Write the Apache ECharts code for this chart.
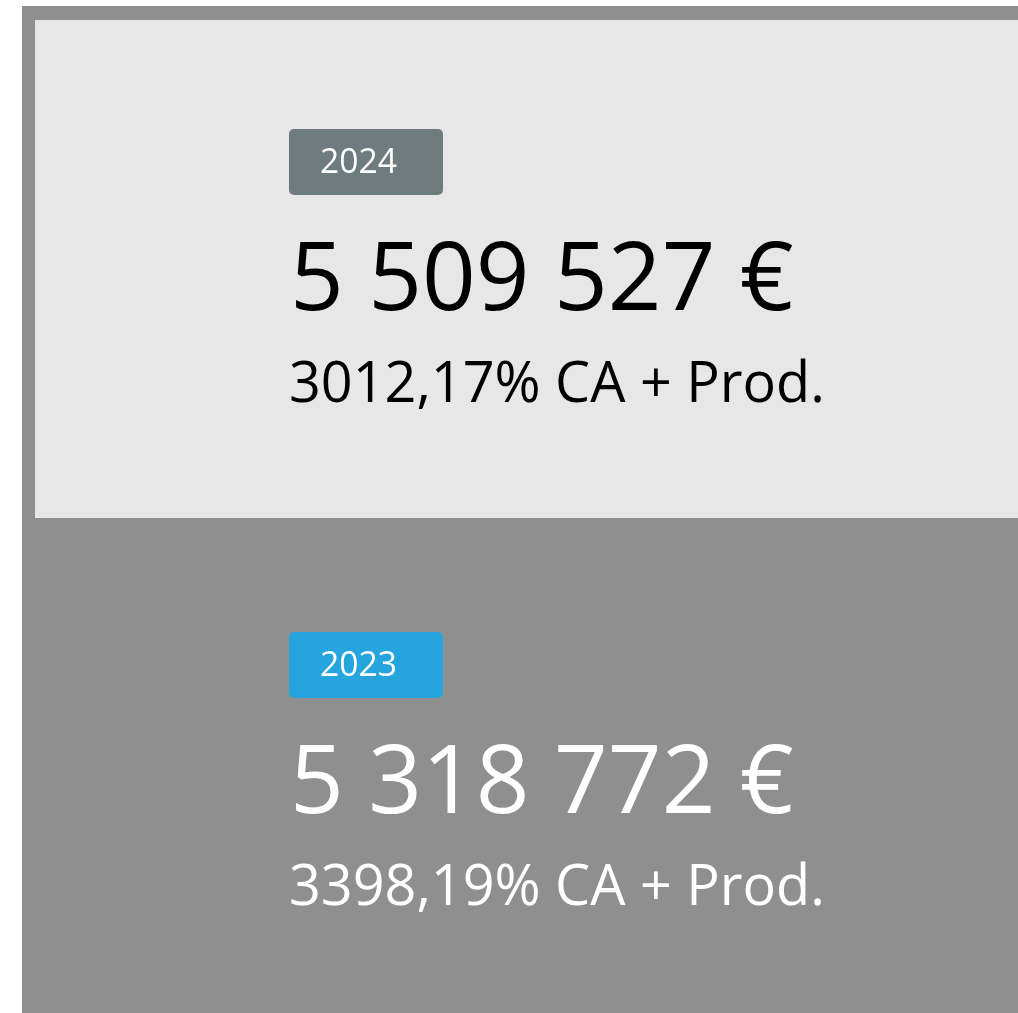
<!DOCTYPE html>
<html>
<head>
<meta charset="utf-8">
<script src="https://cdn.jsdelivr.net/npm/echarts@6/dist/echarts.min.js"></script>
<style>
html,body{margin:0;padding:0;background:#ffffff;}
#chart{width:1018px;height:1013px;}
</style>
</head>
<body>
<div id="chart"></div>
<script>
// Data
const years = ['2024', '2023'];
const amounts = [5509527, 5318772];
const shares = ['3012,17', '3398,19'];
const shareLabel = '% CA + Prod.';

// Styles
const badgeColors = ['#6f7c7f', '#25a4de'];
const textColors = ['#000000', '#ffffff'];
const FONT = '"Open Sans", sans-serif';

function fmt(n) {
  return String(n).replace(/\B(?=(\d{3})+(?!\d))/g, ' ') + ' €';
}

const chart = echarts.init(document.getElementById('chart'), null, {renderer: 'canvas'});
const graphics = [
  {type: 'rect', shape: {x: 22, y: 6, width: 996, height: 1007}, style: {fill: '#8f8f8f'}, silent: true},
  {type: 'rect', shape: {x: 35, y: 20, width: 983, height: 498}, style: {fill: '#e7e7e7'}, silent: true}
];
const step = 503;
years.forEach((yr, i) => {
  const off = i * step;
  graphics.push({
    type: 'rect', shape: {x: 289, y: 129 + off, width: 154, height: 66, r: 5},
    style: {fill: badgeColors[i]}
  });
  graphics.push({
    type: 'text', x: 320, y: 163 + off, scaleX: 0.99, scaleY: 1,
    style: {text: yr, fill: '#ffffff', font: '400 34px ' + FONT, textAlign: 'left', textVerticalAlign: 'middle'}
  });
  graphics.push({
    type: 'text', x: 290, y: 283 + off, scaleX: 0.98, scaleY: 1,
    style: {text: fmt(amounts[i]), fill: textColors[i], font: '400 96px ' + FONT, textAlign: 'left', textVerticalAlign: 'middle'}
  });
  graphics.push({
    type: 'text', x: 289, y: 386 + off, scaleX: 0.995, scaleY: 1,
    style: {text: shares[i] + shareLabel, fill: textColors[i], font: '400 56px ' + FONT, textAlign: 'left', textVerticalAlign: 'middle'}
  });
});

chart.setOption({
  backgroundColor: '#ffffff',
  animation: false,
  graphic: {elements: graphics}
});
</script>
</body>
</html>
